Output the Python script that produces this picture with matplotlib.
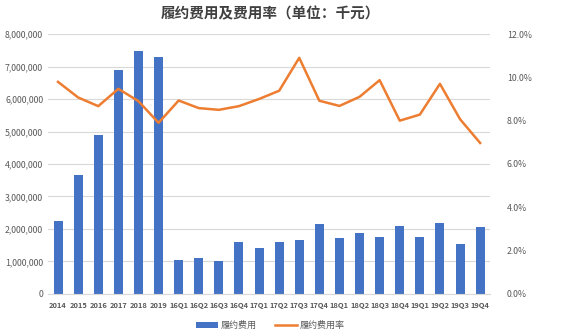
import numpy as np
import matplotlib.pyplot as plt
from matplotlib.ticker import FuncFormatter, MultipleLocator

plt.rcParams['font.family'] = ['Noto Sans CJK SC', 'DejaVu Sans']

# Fulfillment expense (thousand yuan) and expense ratio (%)
periods = ['2014', '2015', '2016', '2017', '2018', '2019',
           '16Q1', '16Q2', '16Q3', '16Q4', '17Q1', '17Q2', '17Q3', '17Q4',
           '18Q1', '18Q2', '18Q3', '18Q4', '19Q1', '19Q2', '19Q3', '19Q4']
expense = [2260000, 3650000, 4880000, 6890000, 7480000, 7290000,
           1060000, 1120000, 1000000, 1610000, 1430000, 1610000, 1650000, 2140000,
           1710000, 1890000, 1740000, 2080000, 1740000, 2170000, 1550000, 2050000]
ratio = [9.79, 9.07, 8.67, 9.47, 8.90, 7.90,
         8.93, 8.58, 8.50, 8.67, 9.00, 9.38, 10.90, 8.92,
         8.68, 9.10, 9.87, 8.00, 8.28, 9.70, 8.07, 6.97]

bar_color = '#4472C4'
line_color = '#ED7D31'
text_color = '#595959'

fig = plt.figure(figsize=(5.68, 3.35), dpi=100)
ax = fig.add_axes([0.0845, 0.1224, 0.7785, 0.7761])
x = np.arange(len(periods))

bars = ax.bar(x, expense, width=0.45, color=bar_color, zorder=2, label='履约费用')
ax.set_ylim(0, 8000000)
ax.set_xlim(-0.5, len(periods) - 0.5)
ax.yaxis.set_major_locator(MultipleLocator(1000000))
ax.yaxis.set_major_formatter(FuncFormatter(lambda v, p: f'{v:,.0f}'))
ax.grid(axis='y', color='#D9D9D9', linewidth=0.8, zorder=0)
ax.set_axisbelow(True)
for s in ['top', 'right', 'left']:
    ax.spines[s].set_visible(False)
ax.spines['bottom'].set_color('#D9D9D9')
ax.set_xticks(x)
ax.set_xticklabels(periods, fontweight='bold', fontsize=5.4)
ax.tick_params(axis='y', length=0, labelsize=6.3, colors=text_color)
ax.tick_params(axis='x', length=0, colors=text_color, pad=6)

ax2 = ax.twinx()
line, = ax2.plot(x, ratio, color=line_color, linewidth=1.8, label='履约费用率')
ax2.set_ylim(0, 12)
ax2.yaxis.set_major_locator(MultipleLocator(2))
ax2.yaxis.set_major_formatter(FuncFormatter(lambda v, p: f'{v:.1f}%'))
ax2.tick_params(axis='y', length=0, labelsize=6.3, colors=text_color, pad=12)
for s in ax2.spines.values():
    s.set_visible(False)

fig.suptitle('履约费用及费用率（单位：千元）', x=0.476, y=0.985,
             fontsize=10.5, fontweight='bold', color='#404040')

fig.legend([bars, line], ['履约费用', '履约费用率'], loc='lower center',
           bbox_to_anchor=(0.476, -0.01), ncol=2, frameon=False,
           fontsize=6.5, labelcolor=text_color, handlelength=2.5,
           handleheight=0.6, columnspacing=2, handletextpad=0.3)

fig.savefig('out.png', dpi=100)
